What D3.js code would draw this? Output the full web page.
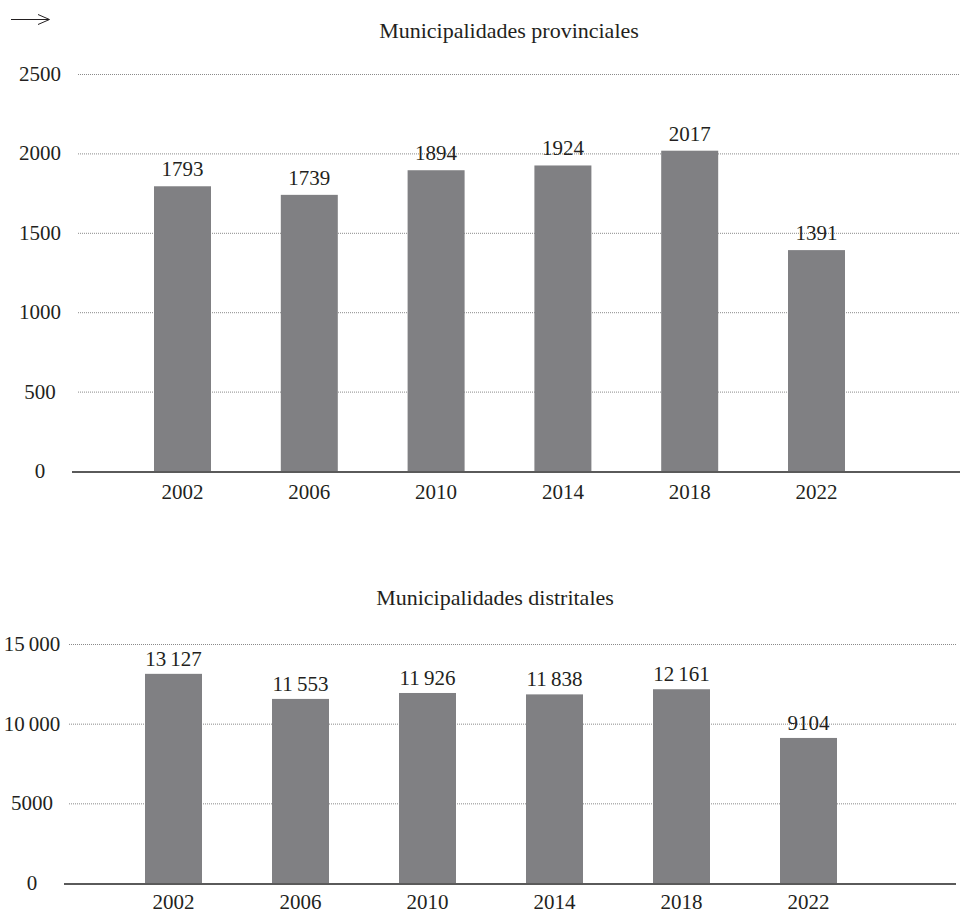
<!DOCTYPE html>
<html>
<head>
<meta charset="utf-8">
<script src="https://cdn.jsdelivr.net/npm/d3@7"></script>
<style>
  body { margin: 0; background: #fff; }
  svg { display: block; }
  text { font-family: "Liberation Serif", "Times New Roman", Times, "DejaVu Serif", serif; fill: #231f20; }
  .grid { stroke: #8a8a8a; stroke-width: 1; stroke-dasharray: 1,1; }
  .base { stroke: #5a5a5a; stroke-width: 2; }
  .bar { fill: #808083; }
</style>
</head>
<body>
<script>
(function(){

    //chart data
    var years = ["2002", "2006", "2010", "2014", "2018", "2022"];
    var provinciales = [1793, 1739, 1894, 1924, 2017, 1391];
    var distritales = [13127, 11553, 11926, 11838, 12161, 9104];
    var provTicks = [0, 500, 1000, 1500, 2000, 2500];
    var distTicks = [0, 5000, 10000, 15000];

    var width = 960, height = 914;

    var svg = d3.select("body")
        .append("svg")
        .attr("width", width)
        .attr("height", height);

    //number format: thin space only from 5 digits up
    var spaced = d3.formatLocale({decimal: ",", thousands: "\u2009", grouping: [3], currency: ["", ""]}).format(",d");
    function fmt(n){
        return n >= 10000 ? spaced(n) : String(n);
    }

    //arrow at the top left
    svg.append("path")
        .attr("d", "M11,19.5H49M38,14.5L49.5,19.5L38,24.5")
        .attr("fill", "none")
        .attr("stroke", "#231f20")
        .attr("stroke-width", 1);

    //draw one panel
    function drawPanel(opt){
        var g = svg.append("g");

        var x = d3.scaleBand()
            .domain(years)
            .range([opt.firstCenter - opt.step / 2, opt.firstCenter - opt.step / 2 + opt.step * years.length])
            .paddingInner(1 - opt.barW / opt.step)
            .paddingOuter((1 - opt.barW / opt.step) / 2);

        var y = d3.scaleLinear()
            .domain([0, opt.max])
            .range([opt.y0, opt.yTop]);

        //title
        g.append("text")
            .attr("x", opt.titleX)
            .attr("y", opt.titleY)
            .attr("text-anchor", "middle")
            .style("font-size", "22px")
            .text(opt.title);

        //gridlines (not for zero)
        g.selectAll(".grid")
            .data(opt.ticks.filter(function(t){ return t > 0; }))
            .enter()
            .append("line")
            .attr("class", "grid")
            .attr("x1", opt.gridX1)
            .attr("x2", opt.gridX2)
            .attr("y1", function(d){ return y(d) + 0.5; })
            .attr("y2", function(d){ return y(d) + 0.5; });

        //y tick labels
        g.selectAll(".ylab")
            .data(opt.ticks)
            .enter()
            .append("text")
            .attr("class", "ylab")
            .attr("x", opt.labX)
            .attr("y", function(d){ return y(d); })
            .attr("dy", "0.33em")
            .attr("text-anchor", "middle")
            .style("font-size", "21px")
            .text(fmt);

        //bars
        g.selectAll(".bar")
            .data(opt.values)
            .enter()
            .append("rect")
            .attr("class", "bar")
            .attr("x", function(d, i){ return x(years[i]); })
            .attr("width", x.bandwidth())
            .attr("y", function(d){ return y(d); })
            .attr("height", function(d){ return y(0) - y(d); });

        //value labels
        g.selectAll(".vlab")
            .data(opt.values)
            .enter()
            .append("text")
            .attr("class", "vlab")
            .attr("x", function(d, i){ return x(years[i]) + x.bandwidth() / 2; })
            .attr("y", function(d){ return y(d) - opt.labGap; })
            .attr("text-anchor", "middle")
            .style("font-size", "21px")
            .text(fmt);

        //baseline
        g.append("line")
            .attr("class", "base")
            .attr("x1", opt.axisX1)
            .attr("x2", opt.axisX2)
            .attr("y1", y(0) + 1)
            .attr("y2", y(0) + 1);

        //x axis labels
        var xAxis = d3.axisBottom(x).tickSize(0).tickPadding(0);
        var ax = g.append("g")
            .attr("transform", "translate(0," + (y(0) + opt.xLabDy) + ")")
            .call(xAxis);
        ax.select(".domain").remove();
        ax.attr("font-family", null).attr("font-size", null);
        ax.selectAll("text")
            .attr("dy", 0)
            .attr("y", 0)
            .attr("fill", "#231f20")
            .style("font-size", "21px");
    }

    drawPanel({
        title: "Municipalidades provinciales",
        titleX: 509, titleY: 38,
        values: provinciales, ticks: provTicks, max: 2500,
        y0: 471, yTop: 74,
        firstCenter: 182.5, step: 126.8, barW: 57,
        gridX1: 78, gridX2: 959, axisX1: 72, axisX2: 960,
        labX: 40, labGap: 10, xLabDy: 28
    });

    drawPanel({
        title: "Municipalidades distritales",
        titleX: 495, titleY: 605,
        values: distritales, ticks: distTicks, max: 15000,
        y0: 883, yTop: 644,
        firstCenter: 173.5, step: 127, barW: 57,
        gridX1: 69, gridX2: 957, axisX1: 64, axisX2: 956,
        labX: 32, labGap: 8, xLabDy: 26
    });

})();
</script>
</body>
</html>
